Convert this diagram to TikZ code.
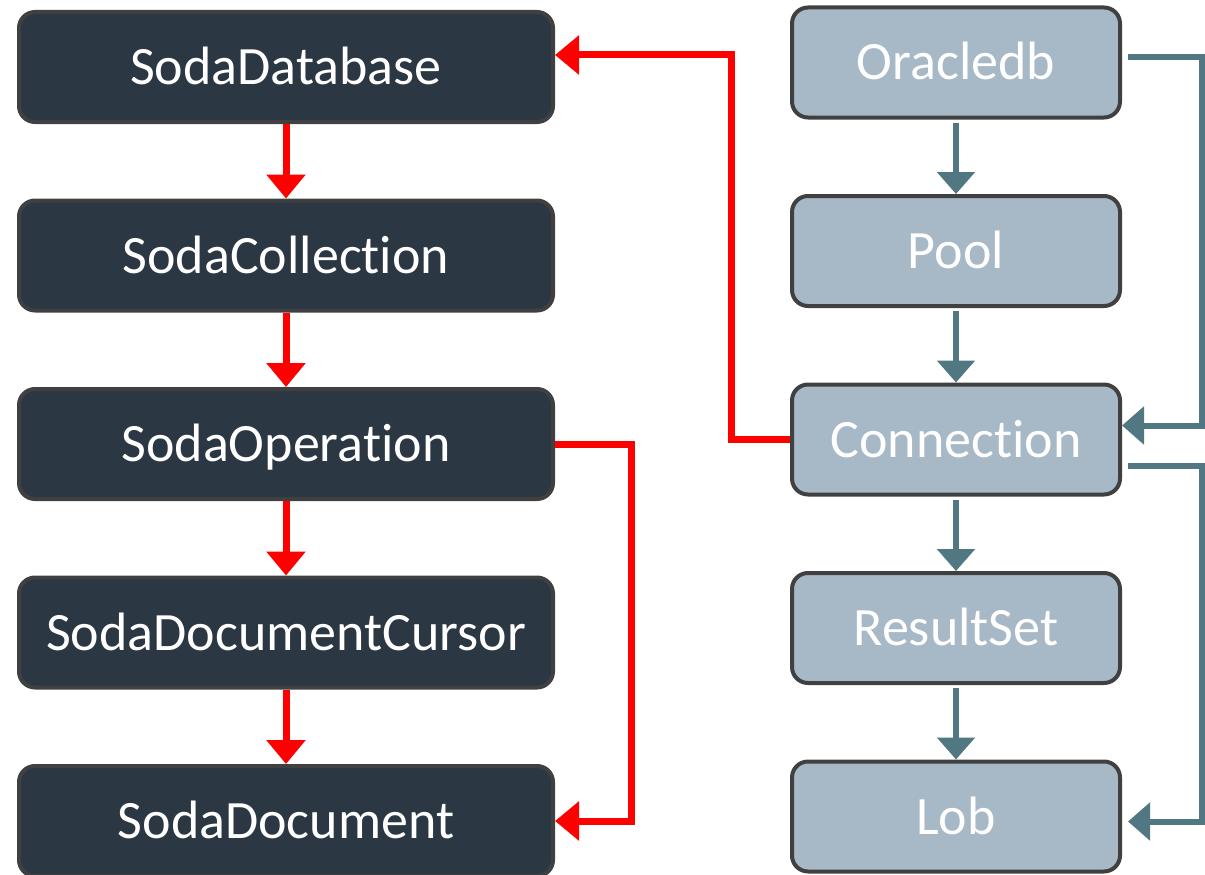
\documentclass[tikz,border=0pt]{standalone}
\usepackage{fontspec}
\setmainfont{Carlito}[RawFeature={-liga;-clig;-dlig;-calt}]
\usetikzlibrary{positioning,arrows.meta}

\definecolor{sodafill}{HTML}{2B3742}
\definecolor{dbfill}{HTML}{A7B8C6}
\definecolor{boxline}{HTML}{404040}
\definecolor{dbteal}{HTML}{517783}

\begin{document}
\begin{tikzpicture}[x=1pt,y=-1pt,node distance=74.5pt,
    box/.style={draw=boxline,line width=4pt,rounded corners=16pt,
      minimum height=110pt,text=white,text height=35pt,text depth=0pt,
      font=\fontsize{54}{60}\selectfont},
    soda/.style={box,fill=sodafill,minimum width=534pt},
    db/.style={box,fill=dbfill,minimum width=328pt},
    redarrow/.style={draw=red,line width=7pt,-{Triangle[length=24pt,width=38pt]}},
    tealarrow/.style={draw=dbteal,line width=6pt,-{Triangle[length=22pt,width=37pt]}}]
  \useasboundingbox (0,0) rectangle (1205,875);
  % SODA classes
  \node[soda] (sdb) at (286,67) {SodaDatabase};
  \node[soda] (scol) [below=of sdb] {SodaCollection};
  \node[soda] (sop) [below=of scol] {SodaOperation};
  \node[soda] (scur) [below=of sop] {SodaDocumentCursor};
  \node[soda] (sdoc) [below=of scur] {SodaDocument};
  % node-oracledb classes
  \node[db] (ora) at (956,62.5) {Oracledb};
  \node[db] (pool) [below=of ora] {Pool};
  \node[db] (conn) [below=of pool] {Connection};
  \node[db] (rs) [below=of conn] {ResultSet};
  \node[db] (lob) [below=of rs] {Lob};
  \coordinate (rail) at (1202,0);
  % chains
  \draw[redarrow] (sdb) -- (scol);
  \draw[redarrow] (scol) -- (sop);
  \draw[redarrow] (sop) -- (scur);
  \draw[redarrow] (scur) -- (sdoc);
  \draw[tealarrow,shorten <=3pt] (ora) -- (pool);
  \draw[tealarrow,shorten <=3pt] (pool) -- (conn);
  \draw[tealarrow,shorten <=3pt] (conn) -- (rs);
  \draw[tealarrow,shorten <=3pt] (rs) -- (lob);
  % cross links
  \draw[redarrow] (conn.west) -- ++(-59,0) |- ([yshift=12pt]sdb.east);
  \draw[redarrow] (sop.east) -- ++(76,0) |- (sdoc.east);
  \draw[tealarrow] ([shift={(6pt,5pt)}]ora.east) -| ([yshift=14pt]conn.east -| rail) -- ([yshift=14pt]conn.east);
  \draw[tealarrow] ([shift={(6pt,-26pt)}]conn.east) -| ([yshift=-5pt]lob.east -| rail) -- ([shift={(6pt,-5pt)}]lob.east);
\end{tikzpicture}
\end{document}
